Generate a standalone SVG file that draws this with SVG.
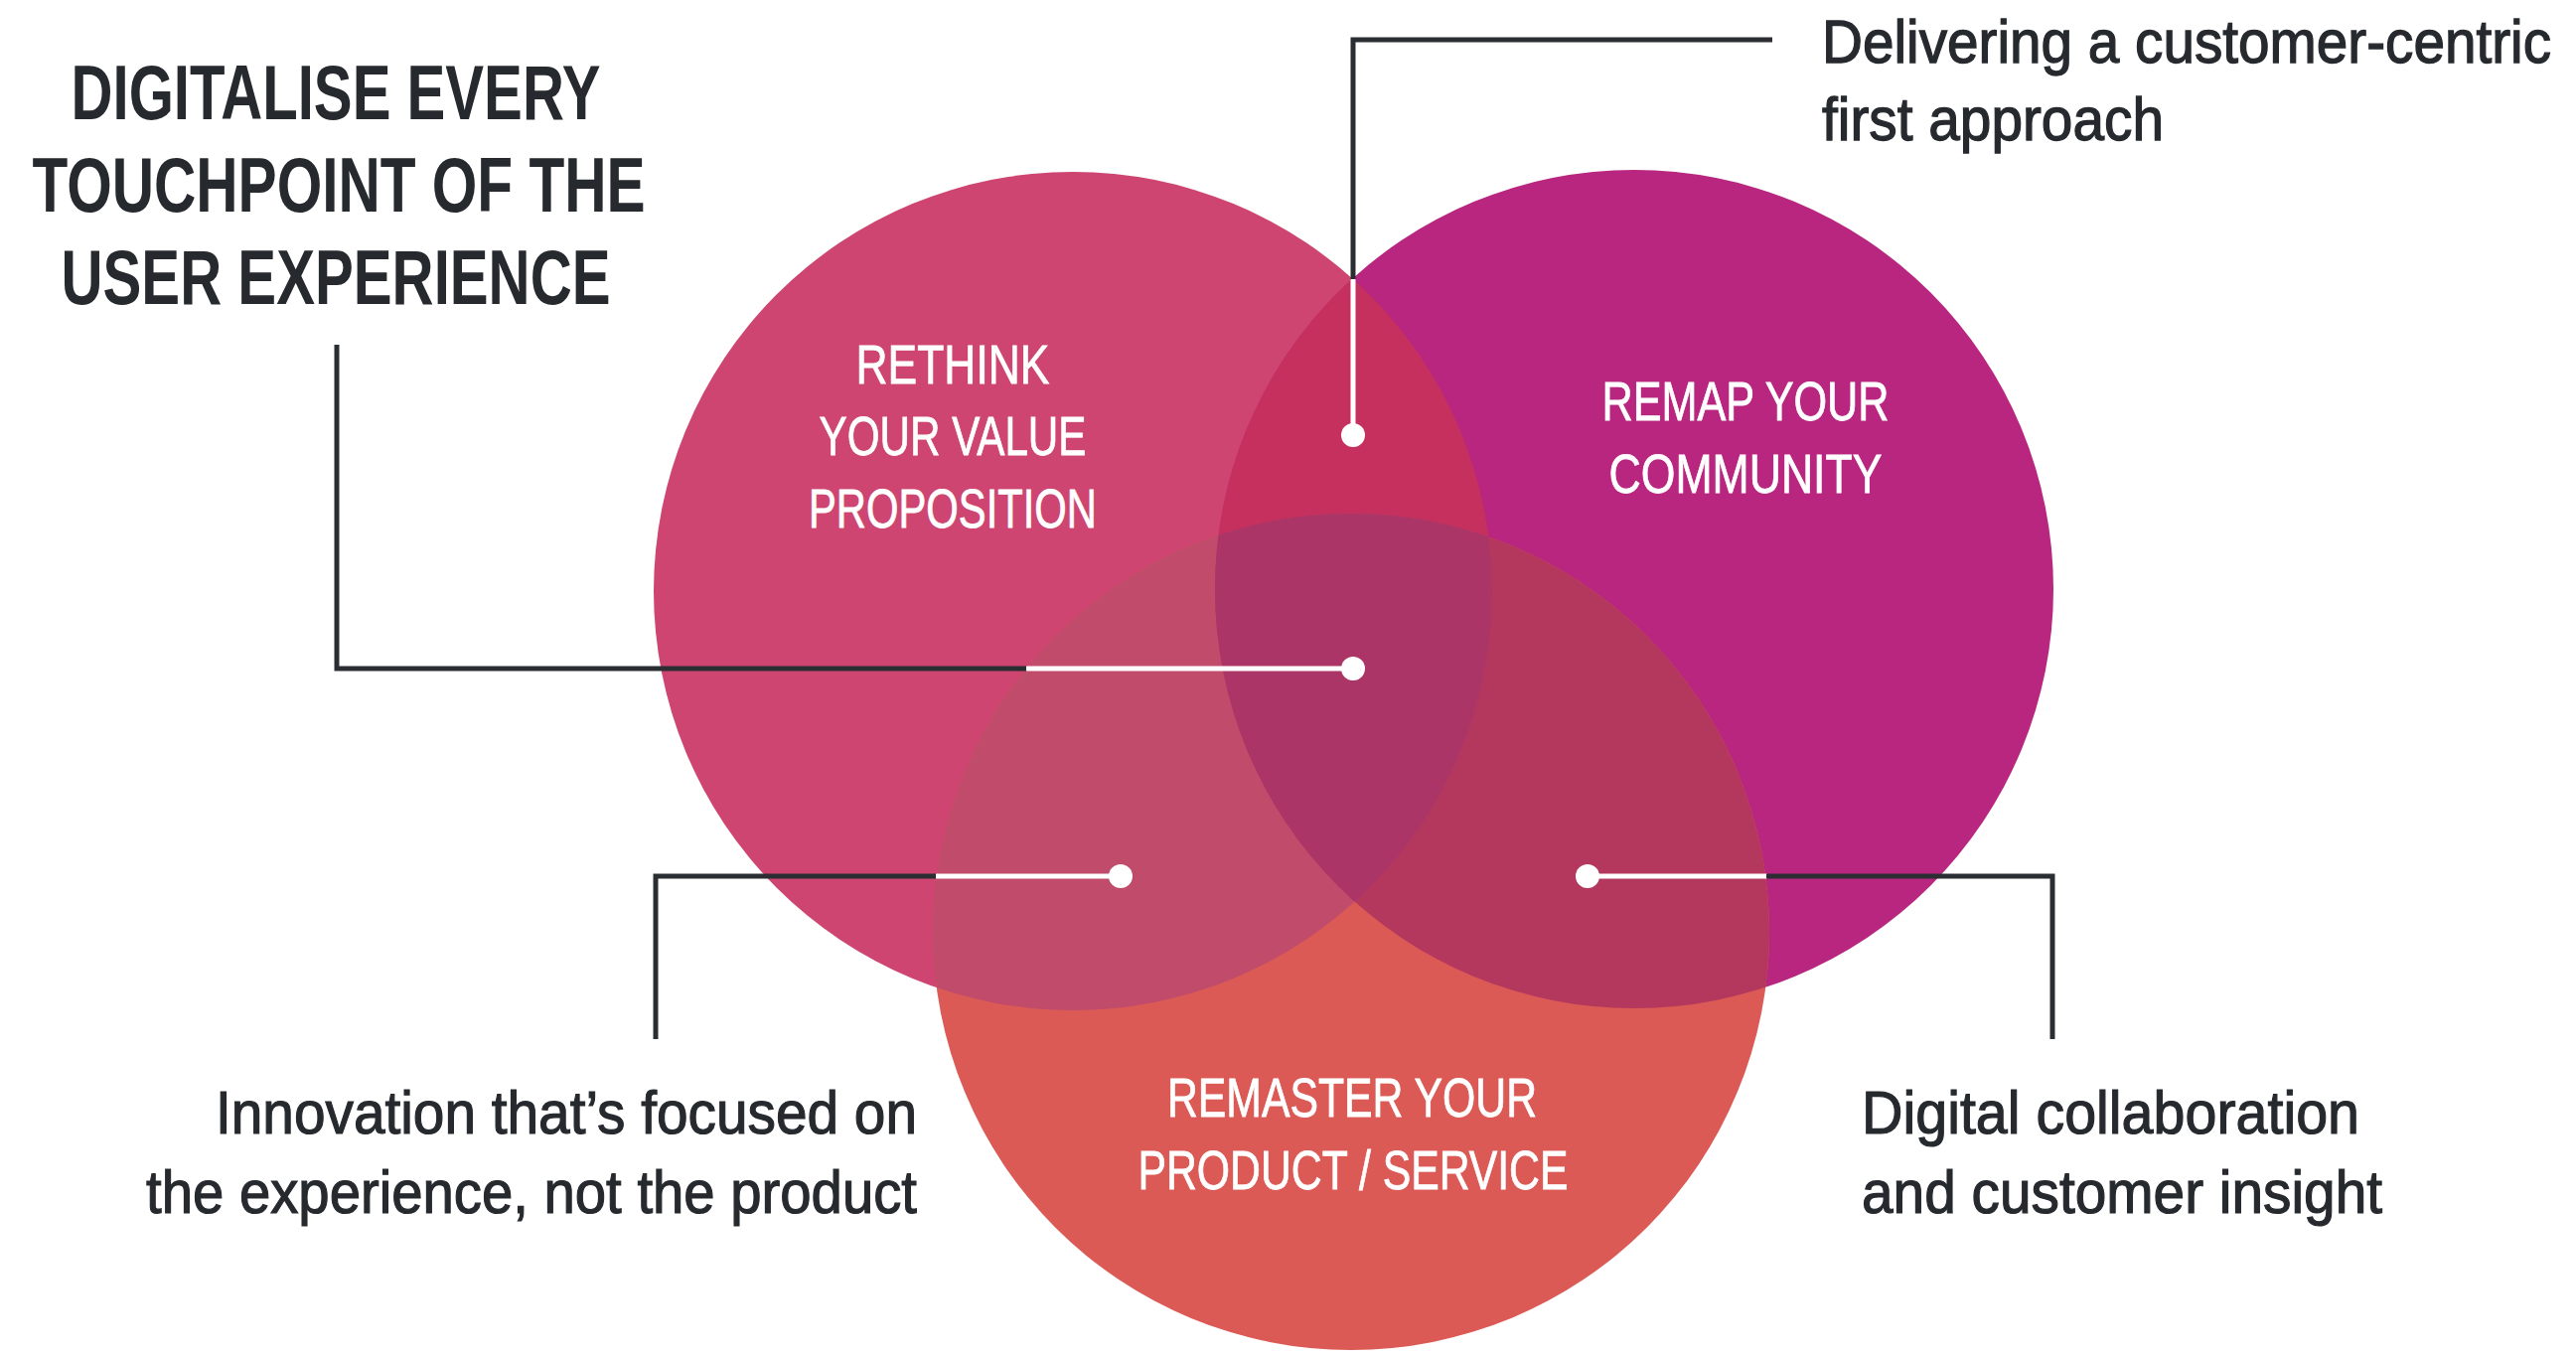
<svg xmlns="http://www.w3.org/2000/svg" width="2593" height="1364" viewBox="0 0 2593 1364">
  <style>
    .title { font-family: "Liberation Sans", Arial, sans-serif; font-weight: bold; font-size: 78px; fill: #262a2e; }
    .note { font-family: "Liberation Sans", Arial, sans-serif; font-size: 62px; fill: #262a2e; stroke: #262a2e; stroke-width: 1.2px; }
    .note-sm { font-size: 57px; }
    .label { font-family: "Liberation Sans", Arial, sans-serif; font-size: 55px; fill: #ffffff; stroke: #ffffff; stroke-width: 0.8px; text-anchor: middle; }
    .dark { stroke: #2a2e32; stroke-width: 5; fill: none; stroke-linecap: butt; stroke-linejoin: miter; }
    .white { stroke: #ffffff; stroke-width: 5; fill: none; }
    .dot { fill: #ffffff; }
  </style>
  <defs>
    <clipPath id="clipL"><circle cx="1080" cy="595" r="422"/></clipPath>
    <clipPath id="clipR"><circle cx="1645" cy="593" r="422"/></clipPath>
  </defs>
  <rect x="0" y="0" width="2593" height="1364" fill="#ffffff"/>

  <g id="circles">
    <g id="node-rethink">
      <circle cx="1080" cy="595" r="422" fill="#cd4570"/>
    </g>
    <g id="node-remap">
      <circle cx="1645" cy="593" r="422" fill="#b8267f"/>
    </g>
    <g id="node-remaster">
      <circle cx="1360" cy="938" r="421" fill="#db5a55"/>
    </g>
    <g id="overlaps">
      <g clip-path="url(#clipL)"><circle cx="1645" cy="593" r="422" fill="#c6305f"/></g>
      <g clip-path="url(#clipL)"><circle cx="1360" cy="938" r="421" fill="#c14b6b"/></g>
      <g clip-path="url(#clipR)"><circle cx="1360" cy="938" r="421" fill="#b4385e"/></g>
      <g clip-path="url(#clipL)"><g clip-path="url(#clipR)"><circle cx="1360" cy="938" r="421" fill="#ac3567"/></g></g>
    </g>
  </g>

  <g id="labels">
    <g id="label-rethink">
      <text class="label" x="959" y="386" textLength="195" lengthAdjust="spacingAndGlyphs">RETHINK</text>
      <text class="label" x="959" y="458" textLength="269" lengthAdjust="spacingAndGlyphs">YOUR VALUE</text>
      <text class="label" x="959" y="531" textLength="290" lengthAdjust="spacingAndGlyphs">PROPOSITION</text>
    </g>
    <g id="label-remap">
      <text class="label" x="1757" y="423" textLength="289" lengthAdjust="spacingAndGlyphs">REMAP YOUR</text>
      <text class="label" x="1757" y="496" textLength="275" lengthAdjust="spacingAndGlyphs">COMMUNITY</text>
    </g>
    <g id="label-remaster">
      <text class="label" x="1361" y="1124" textLength="372" lengthAdjust="spacingAndGlyphs">REMASTER YOUR</text>
      <text class="label" x="1362" y="1197" textLength="433" lengthAdjust="spacingAndGlyphs">PRODUCT / SERVICE</text>
    </g>
  </g>

  <g id="connectors">
    <polyline class="dark" points="1784,40 1362,40 1362,282"/>
    <line class="white" x1="1362" y1="281" x2="1362" y2="438"/>
    <circle class="dot" cx="1362" cy="438" r="12"/>

    <polyline class="dark" points="339,347 339,673 1034,673"/>
    <line class="white" x1="1033" y1="673" x2="1362" y2="673"/>
    <circle class="dot" cx="1362" cy="673" r="12"/>

    <polyline class="dark" points="660,1046 660,882 943,882"/>
    <line class="white" x1="942" y1="882" x2="1128" y2="882"/>
    <circle class="dot" cx="1128" cy="882" r="12"/>

    <line class="white" x1="1598" y1="882" x2="1779" y2="882"/>
    <polyline class="dark" points="1778,882 2066,882 2066,1046"/>
    <circle class="dot" cx="1598" cy="882" r="12"/>
  </g>

  <g id="note-title">
    <text class="title" x="338" y="120" text-anchor="middle" textLength="533" lengthAdjust="spacingAndGlyphs">DIGITALISE EVERY</text>
    <text class="title" x="341" y="213" text-anchor="middle" textLength="617" lengthAdjust="spacingAndGlyphs">TOUCHPOINT OF THE</text>
    <text class="title" x="338" y="306" text-anchor="middle" textLength="553" lengthAdjust="spacingAndGlyphs">USER EXPERIENCE</text>
  </g>
  <g id="note-delivering">
    <text class="note note-sm" transform="translate(1834 63) scale(1 1.088)" x="0" y="0" textLength="734" lengthAdjust="spacingAndGlyphs">Delivering a customer-centric</text>
    <text class="note note-sm" transform="translate(1834 141) scale(1 1.088)" x="0" y="0" textLength="344" lengthAdjust="spacingAndGlyphs">first approach</text>
  </g>
  <g id="note-innovation">
    <text class="note" x="923" y="1141" text-anchor="end" textLength="706" lengthAdjust="spacingAndGlyphs">Innovation that’s focused on</text>
    <text class="note" x="923" y="1221" text-anchor="end" textLength="776" lengthAdjust="spacingAndGlyphs">the experience, not the product</text>
  </g>
  <g id="note-digital">
    <text class="note" x="1874" y="1141" textLength="501" lengthAdjust="spacingAndGlyphs">Digital collaboration</text>
    <text class="note" x="1874" y="1221" textLength="524" lengthAdjust="spacingAndGlyphs">and customer insight</text>
  </g>
</svg>
